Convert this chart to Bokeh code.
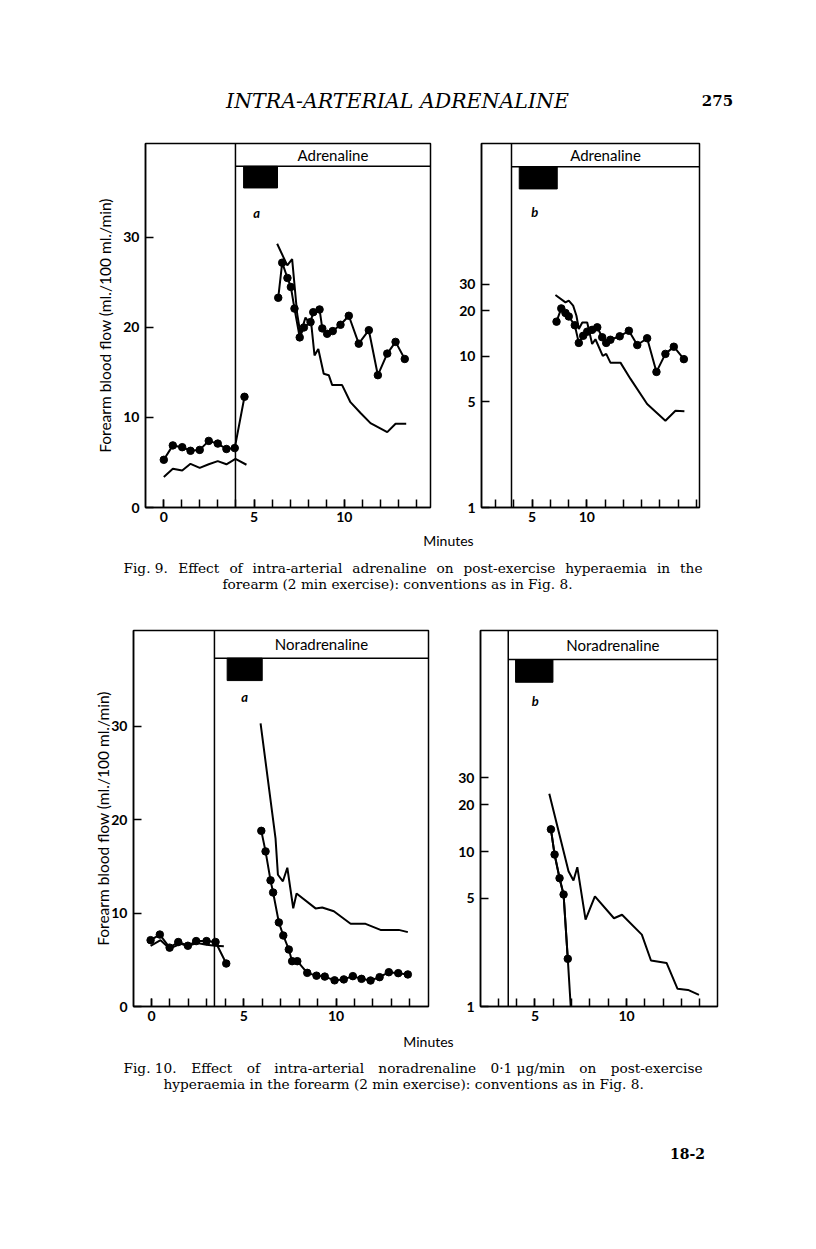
import math
from bokeh.plotting import figure
from bokeh.layouts import column, row
from bokeh.models import Range1d, FixedTicker, BasicTickFormatter
from bokeh.core.properties import value
from bokeh.embed import file_html
from bokeh.resources import INLINE

SANS = "Lato"
SERIF = "DejaVu Serif"

# ---------------- data (minutes, ml./100 ml./min) ----------------
# Fig. 9a  (linear scale)
f9a_dot_pre_t = [0.0, 0.5, 1.02, 1.48, 1.99, 2.49, 2.99, 3.47, 3.93, 4.47]
f9a_dot_pre_v = [5.3, 6.9, 6.7, 6.3, 6.4, 7.4, 7.1, 6.5, 6.6, 12.3]
f9a_dot_post_t = [6.34, 6.56, 6.85, 7.04, 7.24, 7.53, 7.76, 8.13, 8.28, 8.63, 8.78,
                  9.05, 9.36, 9.79, 10.25, 10.80, 11.36, 11.86, 12.38, 12.84, 13.35]
f9a_dot_post_v = [23.3, 27.2, 25.5, 24.5, 22.1, 18.9, 20.0, 20.6, 21.7, 22.0, 19.9,
                  19.3, 19.6, 20.3, 21.3, 18.2, 19.7, 14.7, 17.1, 18.4, 16.5]
f9a_line_pre_t = [0.0, 0.5, 1.02, 1.48, 1.99, 2.49, 2.99, 3.47, 3.97, 4.58]
f9a_line_pre_v = [3.4, 4.3, 4.1, 4.85, 4.4, 4.8, 5.15, 4.8, 5.4, 4.75]
f9a_line_post_t = [6.28, 6.84, 7.11, 7.39, 7.57, 7.85, 8.03, 8.16, 8.35, 8.56, 8.86,
                   9.14, 9.33, 9.88, 10.34, 10.90, 11.45, 12.38, 12.84, 13.43]
f9a_line_post_v = [29.3, 26.9, 27.6, 21.5, 19.3, 21.1, 20.6, 20.6, 16.9, 17.6, 14.85,
                   14.7, 13.6, 13.6, 11.7, 10.5, 9.37, 8.37, 9.3, 9.3]

# Fig. 9b  (log scale)
f9b_dot_t = [6.34, 6.60, 6.83, 7.01, 7.34, 7.56, 7.80, 8.02, 8.29, 8.57, 8.84,
             9.06, 9.29, 9.80, 10.30, 10.76, 11.30, 11.81, 12.30, 12.76, 13.31]
f9b_dot_v = [17.0, 20.8, 19.4, 18.4, 16.1, 12.3, 13.7, 14.6, 15.0, 15.6, 13.4,
             12.3, 12.9, 13.6, 14.8, 11.9, 13.2, 7.9, 10.4, 11.6, 9.6]
f9b_line_t = [6.28, 6.83, 7.01, 7.25, 7.43, 7.56, 7.75, 8.02, 8.29, 8.47, 8.87,
              9.06, 9.29, 9.84, 10.39, 11.30, 12.30, 12.85, 13.34]
f9b_line_v = [25.5, 22.8, 23.4, 21.7, 18.6, 15.2, 16.8, 16.8, 12.1, 13.0, 10.1,
              10.4, 9.1, 9.1, 7.1, 4.84, 3.75, 4.37, 4.33]

# Fig. 10a  (linear scale)
f10a_dot_pre_t = [-0.05, 0.45, 0.98, 1.45, 1.97, 2.42, 2.98, 3.47, 4.05]
f10a_dot_pre_v = [7.1, 7.7, 6.3, 6.9, 6.5, 7.0, 7.0, 6.9, 4.6]
f10a_dot_post_t = [5.95, 6.18, 6.45, 6.59, 6.90, 7.14, 7.44, 7.62, 7.90, 8.44, 8.94,
                   9.39, 9.92, 10.42, 10.91, 11.38, 11.87, 12.36, 12.86, 13.37, 13.89]
f10a_dot_post_v = [18.8, 16.6, 13.5, 12.2, 9.0, 7.6, 6.1, 4.85, 4.85, 3.6, 3.3,
                   3.2, 2.8, 2.9, 3.25, 2.96, 2.78, 3.14, 3.67, 3.57, 3.43]
f10a_line_pre_t = [-0.05, 0.49, 0.98, 1.57, 1.97, 2.48, 2.98, 3.47, 3.92]
f10a_line_pre_v = [6.5, 7.1, 6.2, 6.7, 6.5, 6.8, 6.6, 6.5, 6.45]
f10a_line_post_t = [5.91, 6.72, 6.85, 7.12, 7.36, 7.68, 7.86, 8.89, 9.25, 9.88,
                    10.79, 11.60, 12.41, 13.40, 13.89]
f10a_line_post_v = [30.3, 18.0, 14.1, 13.4, 14.85, 10.5, 12.1, 10.5, 10.6, 10.2,
                    8.85, 8.85, 8.2, 8.2, 7.96]

# Fig. 10b  (log scale)
f10b_dot_t = [5.87, 6.07, 6.34, 6.56, 6.79]
f10b_dot_v = [13.9, 9.56, 6.73, 5.28, 2.03]
f10b_dot_tail_t = [6.95]
f10b_dot_tail_v = [1.0]
f10b_line_t = [5.78, 6.83, 7.10, 7.31, 7.76, 8.27, 9.31, 9.75, 10.83, 11.33,
               12.18, 12.78, 13.35, 13.95]
f10b_line_v = [23.6, 7.46, 6.5, 7.92, 3.64, 5.13, 3.71, 3.91, 2.91, 1.98,
               1.91, 1.30, 1.28, 1.19]

# infusion periods (minutes)
f9a_infusion = [4.42, 6.30]
f9b_infusion = [4.30, 6.38]
f10a_infusion = [4.10, 6.00]
f10b_infusion = [3.94, 5.98]

y_label = "Forearm blood flow (ml./100 ml./min)"
x_label = "Minutes"

# ---------------- helpers ----------------
def style_axis(ax):
    ax.axis_line_width = 1.5
    ax.axis_line_color = "black"
    ax.major_tick_in = 8
    ax.major_tick_out = 0
    ax.minor_tick_in = 8
    ax.minor_tick_out = 0
    ax.major_tick_line_width = 1.5
    ax.minor_tick_line_width = 1.5
    ax.major_tick_line_color = "black"
    ax.minor_tick_line_color = "black"
    ax.major_label_text_font = SANS
    ax.major_label_text_font_size = "14px"
    ax.major_label_text_font_style = "bold"
    ax.major_label_text_color = "black"


def panel(w, h, bl, br, bt, bb, xr, yr, log, xmajor, xminor, xover, ymajor,
          drug, tag, div, yhead, infusion, tagpos, series):
    p = figure(width=w, height=h, x_range=Range1d(*xr), y_range=Range1d(*yr),
               y_axis_type="log" if log else "linear",
               output_backend="svg", toolbar_location=None,
               min_border_left=bl, min_border_right=br,
               min_border_top=bt, min_border_bottom=bb)
    p.grid.visible = False
    p.outline_line_color = "black"
    p.outline_line_width = 1.5
    p.background_fill_color = "white"
    p.border_fill_color = "white"
    xa = p.xaxis[0]
    ya = p.yaxis[0]
    style_axis(xa)
    style_axis(ya)
    xa.ticker = FixedTicker(ticks=xmajor, minor_ticks=xminor)
    xa.major_label_standoff = 4
    if xover:
        xa.major_label_overrides = xover
    ya.ticker = FixedTicker(ticks=ymajor, minor_ticks=[])
    ya.formatter = BasicTickFormatter()
    ya.major_label_standoff = 6

    ytop = yr[1]
    # divider and drug header box
    p.segment(x0=[div, div], y0=[yr[0], yhead], x1=[div, xr[1]], y1=[ytop, yhead],
              line_color="black", line_width=1.5)
    ymid = math.sqrt(yhead * ytop) if log else (yhead + ytop) / 2
    p.text(x=[(div + xr[1]) / 2], y=[ymid], text=[drug], text_align="center",
           text_baseline="middle", text_font=value(SANS), text_font_size="15px",
           text_color="black")
    # infusion bar
    if log:
        bar_bottom = yhead / 1.40
    else:
        bar_bottom = yhead - 2.4
    p.quad(left=[infusion[0]], right=[infusion[1]], bottom=[bar_bottom], top=[yhead],
           fill_color="black", line_color="black")
    p.text(x=[tagpos[0]], y=[tagpos[1]], text=[tag], text_align="center",
           text_baseline="middle", text_font=value(SANS), text_font_size="13px",
           text_font_style="bold italic", text_color="black")
    for t, v, mk in series:
        p.line(t, v, line_color="black", line_width=2)
        if mk:
            p.scatter(t, v, size=7.5, fill_color="black", line_color="black")
    return p


def add_ylabel(p, standoff):
    p.yaxis.axis_label = y_label
    p.yaxis.axis_label_text_font = SANS
    p.yaxis.axis_label_text_font_size = "15.5px"
    p.yaxis.axis_label_text_font_style = "normal"
    p.yaxis.axis_label_text_color = "black"
    p.yaxis.axis_label_standoff = standoff


# ---------------- Fig. 9 panels ----------------
p9a = panel(455, 405, 145, 25, 18, 23, (-1.014, 14.776), (0, 40.44), False,
            [0, 5, 10], list(range(0, 15)), None, [0, 10, 20, 30],
            "Adrenaline", "a", 3.97, 37.9, f9a_infusion, (5.14, 32.7),
            [(f9a_dot_pre_t, f9a_dot_pre_v, True), (f9a_dot_post_t, f9a_dot_post_v, True),
             (f9a_line_pre_t, f9a_line_pre_v, False), (f9a_line_post_t, f9a_line_post_v, False)])
add_ylabel(p9a, 6)

p9b = panel(353, 405, 26, 109, 18, 23, (2.234, 14.166), (1, 257), True,
            [5, 8], list(range(3, 15)), {8: "10"}, [1, 5, 10, 20, 30],
            "Adrenaline", "b", 3.876, 180, f9b_infusion, (5.15, 90),
            [(f9b_dot_t, f9b_dot_v, True), (f9b_line_t, f9b_line_v, False)])

# ---------------- Fig. 10 panels ----------------
p10a = panel(455, 430, 133, 27, 30, 24, (-0.976, 15.01), (0, 40.24), False,
             [0, 5, 10], list(range(0, 15)), None, [0, 10, 20, 30],
             "Noradrenaline", "a", 3.41, 37.28, f10a_infusion, (5.04, 33.1),
             [(f10a_dot_pre_t, f10a_dot_pre_v, True), (f10a_dot_post_t, f10a_dot_post_v, True),
              (f10a_line_pre_t, f10a_line_pre_v, False), (f10a_line_post_t, f10a_line_post_v, False)])
add_ylabel(p10a, -4)

p10b = panel(353, 430, 23, 91, 30, 24, (2.026, 14.96), (1, 266.6), True,
             [5, 10], list(range(3, 15)), None, [1, 5, 10, 20, 30],
             "Noradrenaline", "b", 3.54, 173, f10b_infusion, (5.02, 93),
             [(f10b_dot_t + f10b_dot_tail_t, f10b_dot_v + f10b_dot_tail_v, False),
              (f10b_dot_t, f10b_dot_v, True), (f10b_line_t, f10b_line_v, False)])

# ---------------- text rows ----------------
CW = {' ': .318, '.': .318, ',': .318, ':': .337, '(': .39, ')': .39, '-': .338,
      '·': .318, '/': .337, 'μ': .65, 'a': .596, 'b': .64, 'c': .56, 'd': .64,
      'e': .592, 'f': .37, 'g': .64, 'h': .644, 'i': .32, 'j': .32, 'k': .61,
      'l': .32, 'm': .948, 'n': .644, 'o': .602, 'p': .64, 'q': .64, 'r': .478,
      's': .513, 't': .402, 'u': .644, 'v': .565, 'w': .856, 'x': .564, 'y': .565,
      'z': .523, 'F': .72, 'E': .72}


def est(word, size):
    return sum(CW.get(ch, .636 if ch.isdigit() else .6) for ch in word) * size


def text_fig(h, y0):
    p = figure(width=816, height=h, x_range=Range1d(0, 816), y_range=Range1d(y0 + h, y0),
               x_axis_type=None, y_axis_type=None, output_backend="svg",
               toolbar_location=None, min_border=0)
    p.outline_line_color = None
    p.background_fill_color = "white"
    p.border_fill_color = "white"
    return p


def justify(p, words, left, right, y, size):
    ws = [est(w, size) for w in words]
    gap = (right - left - sum(ws)) / (len(words) - 1)
    xs, x = [], left
    for w in ws:
        xs.append(x)
        x += w + gap
    p.text(x=xs[:-1], y=[y] * (len(words) - 1), text=words[:-1], text_font=value(SERIF),
           text_font_size=f"{size}px", text_baseline="middle", text_align="left",
           text_color="black")
    p.text(x=[right], y=[y], text=[words[-1]], text_font=value(SERIF),
           text_font_size=f"{size}px", text_baseline="middle", text_align="right",
           text_color="black")


def plain(p, x, y, s, size, font=SERIF, align="left", style="normal"):
    p.text(x=[x], y=[y], text=[s], text_font=value(font), text_font_size=f"{size}px",
           text_baseline="middle", text_align=align, text_font_style=style,
           text_color="black")


# header row
hdr = text_fig(125, 0)
plain(hdr, 397, 100, "INTRA-ARTERIAL ADRENALINE", 20.5, align="center", style="italic")
plain(hdr, 717, 100, "275", 15, align="center", style="bold")

# caption Fig. 9
cap9 = text_fig(70, 125 + 405)
plain(cap9, 448, 540, x_label, 14, font=SANS, align="center")
cap9_line1 = ["Fig. 9.", "Effect", "of", "intra-arterial", "adrenaline", "on",
              "post-exercise", "hyperaemia", "in", "the"]
justify(cap9, cap9_line1, 123, 702, 567, 13.7)
plain(cap9, 222, 583, "forearm (2 min exercise): conventions as in Fig. 8.", 13.7)

# caption Fig. 10
cap10 = text_fig(205, 600 + 430)
plain(cap10, 428, 1041, x_label, 14, font=SANS, align="center")
cap10_line1 = ["Fig. 10.", "Effect", "of", "intra-arterial", "noradrenaline",
               "0·1 μg/min", "on", "post-exercise"]
justify(cap10, cap10_line1, 123, 702, 1067, 13.7)
plain(cap10, 163, 1083, "hyperaemia in the forearm (2 min exercise): conventions as in Fig. 8.", 13.7)
plain(cap10, 687, 1153, "18-2", 14, align="center", style="bold")

layout = column(hdr, row(p9a, p9b), cap9, row(p10a, p10b), cap10)

open("out.html", "w").write(file_html(layout, INLINE))
